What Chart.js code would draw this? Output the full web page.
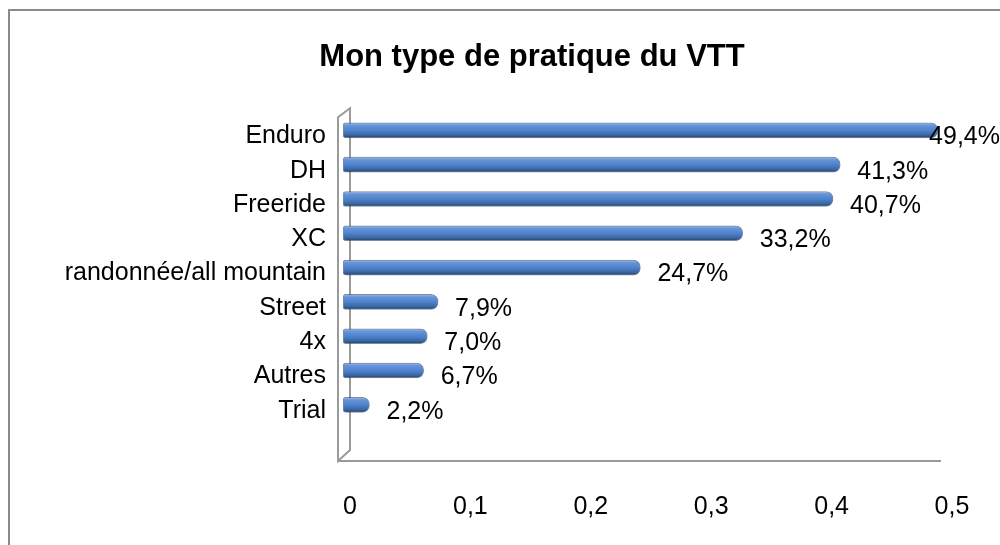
<!DOCTYPE html>
<html>
<head>
<meta charset="utf-8">
<script src="https://cdn.jsdelivr.net/npm/chart.js@4/dist/chart.umd.min.js"></script>
<style>
  html, body { margin: 0; padding: 0; background: #fff; overflow: hidden; }
  #chart { display: block; }
</style>
</head>
<body>
<canvas id="chart" width="1000" height="545"></canvas>
<script>
// ===================================
// Data
// ===================================
const categories = ['Enduro', 'DH', 'Freeride', 'XC', 'randonnée/all mountain', 'Street', '4x', 'Autres', 'Trial'];
const shares = [0.494, 0.413, 0.407, 0.332, 0.247, 0.079, 0.070, 0.067, 0.022];
const axisMax = 0.5;
const axisStep = 0.1;

const FONT = '"Liberation Sans", Arial, sans-serif';
const BAR_H = 15;

function fmtPercent(v) {
    return (v * 100).toFixed(1).replace('.', ',') + '%';
}

// cylinder look: vertical gradient per bar, placed with the y scale
function barFill(ctx) {
    const chart = ctx.chart;
    if (ctx.dataIndex === undefined || !chart.scales.y) return '#4f81bd';
    const y = chart.scales.y.getPixelForValue(ctx.dataIndex);
    if (!isFinite(y)) return '#4f81bd';
    const g = chart.ctx.createLinearGradient(0, y - BAR_H / 2, 0, y + BAR_H / 2);
    g.addColorStop(0, '#9dbbe6');
    g.addColorStop(0.18, '#6594da');
    g.addColorStop(0.5, '#4f83cc');
    g.addColorStop(0.8, '#3b68a6');
    g.addColorStop(1, '#243f66');
    return g;
}

// ===================================
// Plugins
// ===================================
const framePlugin = {
    id: 'frame',
    beforeDraw(chart) {
        const c = chart.ctx;
        c.save();
        c.fillStyle = '#fff';
        c.fillRect(0, 0, chart.width, chart.height);
        c.strokeStyle = '#8a8a8a';
        c.lineWidth = 2;
        c.strokeRect(9, 10, chart.width + 20, chart.height + 20);
        c.restore();
    }
};

// 3D wall + floor drawn from the scales
const wallPlugin = {
    id: 'wall',
    beforeDatasetsDraw(chart) {
        const c = chart.ctx;
        const area = chart.chartArea;
        const x0 = chart.scales.x.getPixelForValue(0);
        const xEnd = chart.scales.x.getPixelForValue(axisMax);
        const floor = area.bottom + 39;
        c.save();
        c.strokeStyle = '#9a9a9a';
        c.lineWidth = 2;
        c.beginPath();
        c.moveTo(x0 + 7, area.top - 5);
        c.lineTo(x0 + 7, floor - 11);
        c.lineTo(x0 - 5, floor);
        c.lineTo(x0 - 5, area.top + 4);
        c.closePath();
        c.stroke();
        c.beginPath();
        c.moveTo(x0 - 5, floor);
        c.lineTo(xEnd - 4, floor);
        c.stroke();
        c.restore();
    }
};

const valueLabels = {
    id: 'valueLabels',
    afterDatasetsDraw(chart) {
        const c = chart.ctx;
        const meta = chart.getDatasetMeta(0);
        c.save();
        c.font = '25px ' + FONT;
        c.fillStyle = '#000';
        c.textAlign = 'left';
        c.textBaseline = 'middle';
        meta.data.forEach((bar, i) => {
            const txt = fmtPercent(shares[i]);
            const w = c.measureText(txt).width;
            const x = Math.min(bar.x + 17, chart.width - w);
            c.fillText(txt, x, bar.y + 7);
        });
        c.restore();
    }
};

// ===================================
// Chart
// ===================================
new Chart(document.getElementById('chart'), {
    type: 'bar',
    data: {
        labels: categories,
        datasets: [{
            label: 'Mon type de pratique du VTT',
            data: shares,
            backgroundColor: barFill,
            borderColor: 'rgba(35,65,105,0.6)',
            borderWidth: 1,
            borderSkipped: false,
            borderRadius: { topLeft: 3, bottomLeft: 3, topRight: 7, bottomRight: 7 },
            barThickness: BAR_H
        }]
    },
    options: {
        indexAxis: 'y',
        responsive: false,
        animation: false,
        devicePixelRatio: 1,
        layout: { padding: { left: 64, right: 0, top: 0, bottom: 0 } },
        plugins: {
            legend: { display: false },
            tooltip: { enabled: false },
            title: {
                display: true,
                text: 'Mon type de pratique du VTT',
                color: '#000',
                font: { family: FONT, size: 31, weight: 'bold' },
                padding: { top: 39, bottom: 37 }
            }
        },
        scales: {
            x: {
                min: 0,
                max: axisMax,
                grid: { display: false, drawTicks: false },
                border: { display: false },
                ticks: {
                    stepSize: axisStep,
                    padding: 70,
                    labelOffset: 7,
                    color: '#000',
                    font: { family: FONT, size: 25 },
                    callback: v => (Math.round(v * 10) / 10).toString().replace('.', ',')
                },
                afterFit: s => { s.height = 123; s.paddingRight = 55; }
            },
            y: {
                grid: { display: false, drawTicks: false },
                border: { display: false },
                ticks: {
                    padding: 17,
                    labelOffset: 6,
                    color: '#000',
                    font: { family: FONT, size: 25 }
                },
                afterFit: s => { s.width = 279; }
            }
        }
    },
    plugins: [framePlugin, wallPlugin, valueLabels]
});
</script>
</body>
</html>
